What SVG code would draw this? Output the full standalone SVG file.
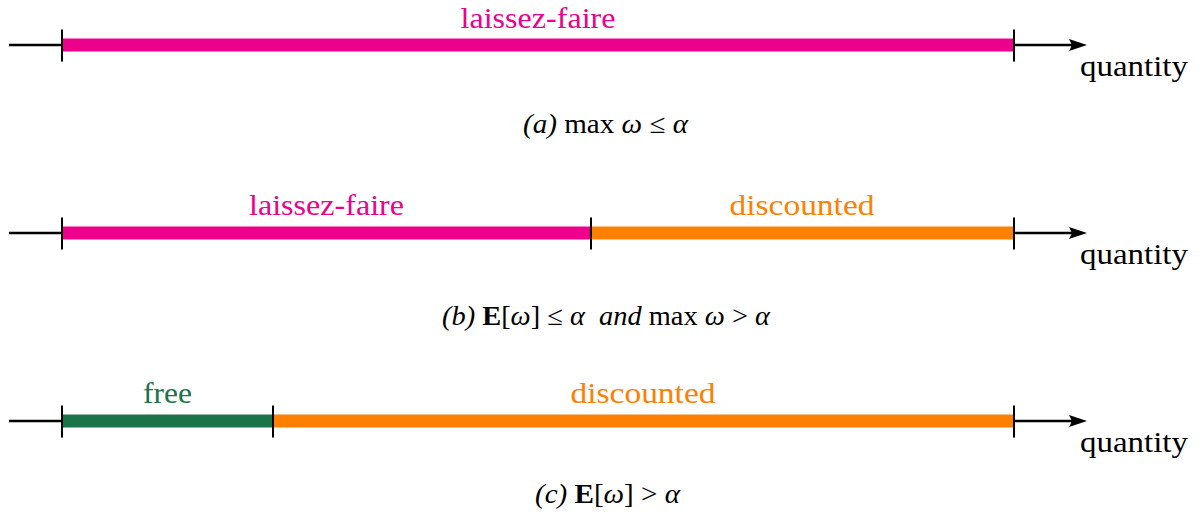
<svg xmlns="http://www.w3.org/2000/svg" width="1200" height="516" viewBox="0 0 1200 516">
<style>
.axis{stroke:#000;stroke-width:2.5;fill:none}
.tick{stroke:#000;stroke-width:2;fill:none}
.bar{stroke-width:13;fill:none}
.mag{stroke:#EC008C}
.ora{stroke:#FF8000}
.grn{stroke:#1B7348}
.lbl{font-family:"Liberation Serif","Times New Roman",serif;font-size:29px;text-anchor:middle}
.q{font-family:"Liberation Serif","Times New Roman",serif;font-size:29px}
.cap{font-family:"Liberation Serif","Times New Roman",serif;font-size:27px;text-anchor:middle}
.it{font-style:italic}
.bf{font-weight:bold}
</style>
<defs>
<g id="axisbase">
<line class="axis" x1="9" y1="0" x2="1074" y2="0"/>
<polygon points="1087,0 1069,-6 1072,0 1069,6" fill="#000"/>
</g>
</defs>
<g id="connectors">
<use href="#axisbase" transform="translate(0,45)"/>
<use href="#axisbase" transform="translate(0,233)"/>
<use href="#axisbase" transform="translate(0,421)"/>
</g>
<g id="row-a">
<line class="bar mag" x1="62" y1="45" x2="1014" y2="45"/>
<line class="tick" x1="62" y1="29.5" x2="62" y2="61.5"/>
<line class="tick" x1="1014" y1="29.5" x2="1014" y2="61.5"/>
<text class="lbl" x="538" y="28" fill="#EC008C" textLength="155" lengthAdjust="spacingAndGlyphs">laissez-faire</text>
<text class="q" x="1080" y="75.5" textLength="108" lengthAdjust="spacingAndGlyphs">quantity</text>
<text class="cap" x="605.5" y="133" textLength="165" lengthAdjust="spacingAndGlyphs"><tspan class="it">(a)</tspan> max <tspan class="it">ω</tspan> ≤ <tspan class="it">α</tspan></text>
</g>
<g id="row-b">
<line class="bar mag" x1="62" y1="233" x2="591" y2="233"/>
<line class="bar ora" x1="591" y1="233" x2="1014" y2="233"/>
<line class="tick" x1="62" y1="217.5" x2="62" y2="249.5"/>
<line class="tick" x1="591" y1="217.5" x2="591" y2="249.5"/>
<line class="tick" x1="1014" y1="217.5" x2="1014" y2="249.5"/>
<text class="lbl" x="326.5" y="215" fill="#EC008C" textLength="155" lengthAdjust="spacingAndGlyphs">laissez-faire</text>
<text class="lbl" x="802" y="215" fill="#FF8000" textLength="145" lengthAdjust="spacingAndGlyphs">discounted</text>
<text class="q" x="1080" y="263.5" textLength="108" lengthAdjust="spacingAndGlyphs">quantity</text>
<text class="cap" x="606" y="325" textLength="328" lengthAdjust="spacingAndGlyphs" xml:space="preserve"><tspan class="it">(b)</tspan> <tspan class="bf">E</tspan>[<tspan class="it">ω</tspan>] ≤ <tspan class="it">α</tspan>  <tspan class="it">and</tspan> max <tspan class="it">ω</tspan> &gt; <tspan class="it">α</tspan></text>
</g>
<g id="row-c">
<line class="bar grn" x1="62" y1="421" x2="273" y2="421"/>
<line class="bar ora" x1="273" y1="421" x2="1014" y2="421"/>
<line class="tick" x1="62" y1="405.5" x2="62" y2="437.5"/>
<line class="tick" x1="273" y1="405.5" x2="273" y2="437.5"/>
<line class="tick" x1="1014" y1="405.5" x2="1014" y2="437.5"/>
<text class="lbl" x="167.5" y="403" fill="#1B7348" textLength="49" lengthAdjust="spacingAndGlyphs">free</text>
<text class="lbl" x="643" y="403" fill="#FF8000" textLength="145" lengthAdjust="spacingAndGlyphs">discounted</text>
<text class="q" x="1080" y="451.5" textLength="108" lengthAdjust="spacingAndGlyphs">quantity</text>
<text class="cap" x="607.5" y="503" textLength="145" lengthAdjust="spacingAndGlyphs"><tspan class="it">(c)</tspan> <tspan class="bf">E</tspan>[<tspan class="it">ω</tspan>] &gt; <tspan class="it">α</tspan></text>
</g>
</svg>
